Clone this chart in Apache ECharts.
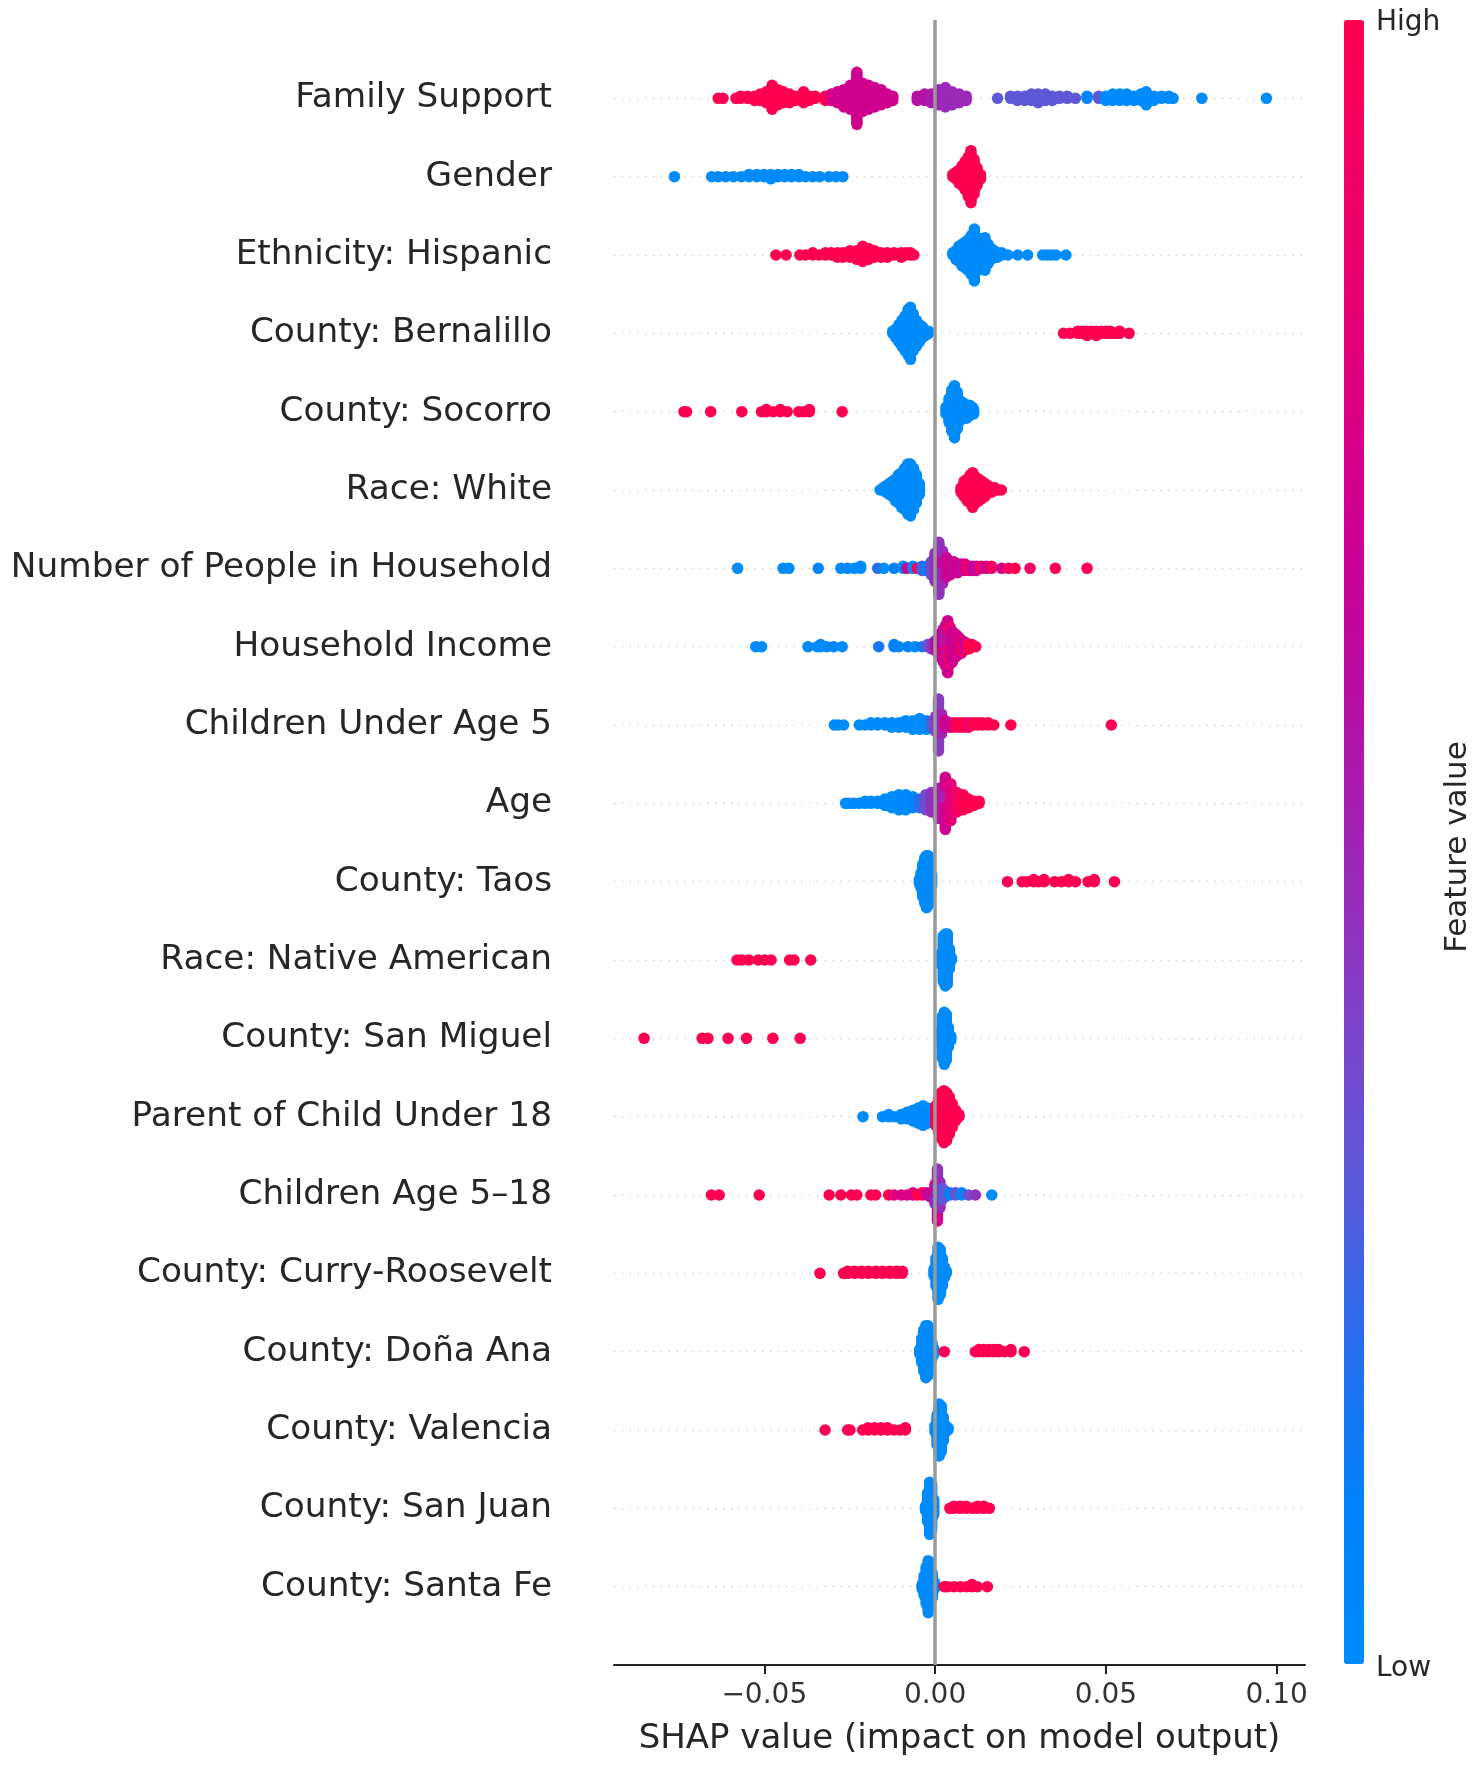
<!DOCTYPE html>
<html>
<head>
<meta charset="utf-8">
<script src="https://cdn.jsdelivr.net/npm/echarts@6/dist/echarts.min.js"></script>
<style>
html, body { margin: 0; padding: 0; background: #fff; }
#chart { width: 1477px; height: 1766px; }
</style>
</head>
<body>
<div id="chart"></div>
<script>
// feature names, top to bottom
var features = [
    'Family Support', 'Gender', 'Ethnicity: Hispanic', 'County: Bernalillo', 'County: Socorro',
    'Race: White', 'Number of People in Household', 'Household Income', 'Children Under Age 5', 'Age',
    'County: Taos', 'Race: Native American', 'County: San Miguel', 'Parent of Child Under 18',
    'Children Age 5\u201318', 'County: Curry-Roosevelt', 'County: Do\u00f1a Ana', 'County: Valencia',
    'County: San Juan', 'County: Santa Fe'
];

// each entry: [shap value, feature value (0 low .. 1 high), number of samples]
var familySupport = [
    [-0.0635, 1, 1], [-0.0621, 1, 1], [-0.0583, 1, 1], [-0.0569, 1, 2], [-0.0549, 1, 2], [-0.0528, 1, 3],
    [-0.0512, 1, 4], [-0.0494, 1, 6], [-0.0477, 1, 12], [-0.046, 1, 8], [-0.0444, 1, 6], [-0.0426, 1, 5],
    [-0.0409, 1, 3], [-0.0385, 1, 6], [-0.0368, 1, 3], [-0.0351, 1, 2], [-0.0321, 1, 3], [-0.0304, 0.74, 4],
    [-0.0286, 0.7, 6], [-0.0267, 0.7, 9], [-0.0248, 0.7, 12], [-0.0229, 0.7, 25], [-0.0212, 0.7, 14],
    [-0.0195, 0.7, 12], [-0.0177, 0.7, 10], [-0.0158, 0.7, 8], [-0.014, 0.7, 5], [-0.0124, 0.7, 3],
    [-0.0052, 0.58, 3], [-0.0031, 0.58, 4], [-0.0011, 0.55, 5], [0.001, 0.5, 8], [0.003, 0.48, 10],
    [0.005, 0.48, 7], [0.0071, 0.48, 5], [0.0091, 0.48, 3], [0.0183, 0.3, 1], [0.0221, 0.3, 2],
    [0.0241, 0.3, 3], [0.0262, 0.3, 3], [0.0282, 0.3, 4], [0.0302, 0.3, 5], [0.0323, 0.3, 4],
    [0.0343, 0.3, 3], [0.0364, 0.3, 2], [0.0387, 0.3, 2], [0.0411, 0.3, 1], [0.0445, 0.05, 2],
    [0.0479, 0.3, 2], [0.05, 0, 3], [0.052, 0, 4], [0.0541, 0, 4], [0.0561, 0, 4], [0.0582, 0, 3],
    [0.0602, 0, 4], [0.0618, 0, 7], [0.064, 0, 3], [0.0663, 0, 2], [0.0684, 0, 2], [0.0697, 0, 1],
    [0.0781, 0, 1], [0.097, 0, 1]
];
var gender = [
    [-0.0763, 0, 1], [-0.0654, 0, 1], [-0.0635, 0, 1], [-0.0613, 0, 1], [-0.059, 0, 1], [-0.0567, 0, 1],
    [-0.0545, 0, 2], [-0.0522, 0, 2], [-0.0501, 0, 2], [-0.0481, 0, 3], [-0.046, 0, 2], [-0.044, 0, 2],
    [-0.042, 0, 2], [-0.0399, 0, 2], [-0.0379, 0, 1], [-0.0358, 0, 1], [-0.0338, 0, 1], [-0.0311, 0, 1],
    [-0.029, 0, 1], [-0.027, 0, 1],
    [0.0052, 1, 2], [0.0061, 1, 4], [0.007, 1, 7], [0.0079, 1, 10], [0.0088, 1, 14], [0.0097, 1, 19],
    [0.0105, 1, 25], [0.0114, 1, 17], [0.0123, 1, 9], [0.0133, 1, 3]
];
var hispanic = [
    [-0.0466, 1, 1], [-0.0436, 1, 1], [-0.0396, 1, 1], [-0.0379, 1, 1], [-0.0358, 1, 2], [-0.034, 1, 1],
    [-0.0321, 1, 2], [-0.0304, 1, 2], [-0.0286, 1, 3], [-0.027, 1, 3], [-0.0249, 1, 4], [-0.0229, 1, 5],
    [-0.0212, 1, 8], [-0.0195, 1, 6], [-0.0177, 1, 4], [-0.0158, 1, 3], [-0.014, 1, 3], [-0.012, 1, 2],
    [-0.0099, 1, 3], [-0.0084, 1, 2], [-0.0072, 1, 2], [-0.0062, 1, 1],
    [0.0052, 0, 2], [0.0061, 0, 5], [0.007, 0, 8], [0.0079, 0, 11], [0.0088, 0, 13], [0.0097, 0, 15],
    [0.0106, 0, 19], [0.0115, 0, 25], [0.0124, 0, 16], [0.0133, 0, 14], [0.0146, 0, 16], [0.0155, 0, 10],
    [0.0164, 0, 6], [0.0173, 0, 4], [0.0182, 0, 3], [0.0195, 0, 2], [0.0213, 0, 1], [0.0242, 0, 1],
    [0.0271, 0, 1], [0.0315, 0, 1], [0.0328, 0, 1], [0.0341, 0, 1], [0.0354, 0, 1], [0.0383, 0, 1]
];
var bernalillo = [
    [-0.0124, 0, 2], [-0.0115, 0, 5], [-0.0106, 0, 9], [-0.0097, 0, 13], [-0.0088, 0, 17], [-0.0079, 0, 22],
    [-0.0072, 0, 25], [-0.0064, 0, 18], [-0.0055, 0, 13], [-0.0046, 0, 9], [-0.0037, 0, 6], [-0.0028, 0, 3],
    [-0.0019, 0, 2],
    [0.0376, 1, 1], [0.0395, 1, 1], [0.0418, 1, 2], [0.0432, 1, 2], [0.0445, 1, 3], [0.0458, 1, 2],
    [0.0472, 1, 3], [0.0486, 1, 2], [0.05, 1, 2], [0.0513, 1, 2], [0.0527, 1, 1], [0.054, 1, 2], [0.0568, 1, 1]
];
var socorro = [
    [-0.0735, 1, 1], [-0.0728, 1, 1], [-0.0657, 1, 1], [-0.0566, 1, 1], [-0.0508, 1, 1], [-0.0494, 1, 2],
    [-0.0474, 1, 1], [-0.0453, 1, 2], [-0.0433, 1, 1], [-0.0399, 1, 1], [-0.0385, 1, 1], [-0.0368, 1, 2],
    [-0.0272, 1, 1],
    [0.0032, 0, 4], [0.0041, 0, 12], [0.0049, 0, 20], [0.0057, 0, 25], [0.0065, 0, 18], [0.0074, 0, 10],
    [0.0083, 0, 8], [0.0092, 0, 7], [0.0101, 0, 6], [0.0109, 0, 4], [0.0113, 0, 3]
];
var raceWhite = [
    [-0.0161, 0, 1], [-0.0152, 0, 2], [-0.0143, 0, 4], [-0.0134, 0, 6], [-0.0125, 0, 8], [-0.0116, 0, 11],
    [-0.0107, 0, 14], [-0.0098, 0, 17], [-0.0089, 0, 20], [-0.008, 0, 24], [-0.0072, 0, 25], [-0.0063, 0, 20],
    [-0.0055, 0, 14], [-0.0046, 0, 6],
    [0.0076, 1, 3], [0.0085, 1, 8], [0.0094, 1, 11], [0.0103, 1, 14], [0.011, 1, 17], [0.0119, 1, 13],
    [0.0128, 1, 11], [0.0137, 1, 9], [0.0146, 1, 7], [0.0155, 1, 4], [0.0165, 1, 3], [0.0175, 1, 2],
    [0.0185, 1, 1], [0.0194, 1, 1]
];
var householdSize = [
    [-0.0578, 0, 1], [-0.0445, 0, 1], [-0.0428, 0, 1], [-0.0342, 0.05, 1], [-0.0276, 0, 1], [-0.0256, 0.05, 1],
    [-0.0236, 0, 1], [-0.0218, 0, 2], [-0.0168, 0.2, 1], [-0.015, 0, 1], [-0.012, 0.1, 1], [-0.0093, 0, 2],
    [-0.0082, 0.7, 1], [-0.0065, 0.05, 2], [-0.0052, 1, 1], [-0.0038, 0.25, 3], [-0.0024, 0.1, 3],
    [-0.0011, 0.35, 6], [-0.0011, 0.85, 1], [0, 0.45, 14], [0.0011, 0.45, 25], [0.0022, 0.48, 10],
    [0.0022, 0.6, 6], [0.0033, 0.65, 10], [0.0044, 0.7, 6], [0.0044, 1, 1], [0.0055, 0.65, 6],
    [0.0066, 0.7, 5], [0.0077, 0.6, 4], [0.0088, 0.75, 4], [0.01, 0.85, 3], [0.011, 0.7, 3],
    [0.0121, 0.65, 3], [0.0135, 0.9, 2], [0.015, 0.7, 2], [0.0165, 0.9, 2], [0.0195, 0.75, 1],
    [0.0215, 0.9, 1], [0.0234, 1, 1], [0.0278, 0.9, 1], [0.0352, 1, 1], [0.0445, 1, 1]
];
var householdIncome = [
    [-0.0525, 0, 1], [-0.0508, 0, 1], [-0.0372, 0, 1], [-0.0345, 0, 1], [-0.0335, 0, 2], [-0.0317, 0, 1],
    [-0.0297, 0.05, 1], [-0.0272, 0, 1], [-0.0165, 0.15, 1], [-0.012, 0.1, 2], [-0.0106, 0.05, 1],
    [-0.0079, 0.1, 1], [-0.0059, 0, 1], [-0.0038, 0.15, 1], [-0.0022, 0.3, 2], [-0.0011, 0.4, 3],
    [-0.0004, 0.45, 4], [0.0003, 0.6, 6], [0.001, 0.9, 3], [0.001, 0.6, 6], [0.0017, 0.7, 12],
    [0.0024, 0.65, 16], [0.0031, 0.75, 12], [0.0031, 0.5, 8], [0.0037, 0.7, 15], [0.0037, 1, 5],
    [0.0037, 0.5, 5], [0.0044, 0.85, 12], [0.0044, 0.6, 6], [0.0051, 0.7, 15], [0.0058, 0.65, 12],
    [0.0065, 0.75, 10], [0.0071, 0.7, 8], [0.0077, 0.7, 7], [0.0082, 0.95, 5], [0.0088, 0.7, 4],
    [0.0094, 0.8, 3], [0.01, 1, 3], [0.0108, 1, 2], [0.0119, 1, 1]
];
var childrenUnder5 = [
    [-0.0295, 0, 1], [-0.0284, 0, 1], [-0.0268, 0, 1], [-0.0222, 0, 1], [-0.0205, 0, 1], [-0.0188, 0, 2],
    [-0.0168, 0, 2], [-0.0147, 0, 2], [-0.0127, 0, 3], [-0.0106, 0, 3], [-0.0086, 0, 4], [-0.0065, 0, 5],
    [-0.0045, 0, 6], [-0.0025, 0.05, 5], [-0.0008, 0.3, 4], [0.0002, 0.4, 8], [0.001, 0.42, 20],
    [0.001, 0.6, 5], [0.0019, 0.5, 10], [0.003, 0.7, 4], [0.0044, 0.65, 3], [0.0057, 0.9, 3],
    [0.0071, 1, 3], [0.0084, 1, 3], [0.0098, 0.9, 3], [0.0112, 1, 2], [0.0125, 1, 2], [0.0139, 1, 2],
    [0.0155, 1, 2], [0.0172, 1, 1], [0.0222, 1, 1], [0.0516, 1, 1]
];
var age = [
    [-0.0262, 0, 1], [-0.0252, 0, 1], [-0.0238, 0, 1], [-0.0222, 0, 1], [-0.0205, 0, 2], [-0.0188, 0, 2],
    [-0.0168, 0, 2], [-0.0147, 0, 4], [-0.0127, 0, 6], [-0.0106, 0, 8], [-0.0086, 0, 8], [-0.0065, 0.05, 6],
    [-0.0045, 0.2, 5], [-0.0027, 0.35, 8], [-0.0011, 0.45, 10], [0.001, 0.55, 15], [0.003, 0.7, 18],
    [0.003, 0.5, 7], [0.0046, 0.8, 18], [0.0064, 0.9, 10], [0.0082, 1, 8], [0.0098, 1, 5],
    [0.0114, 1, 3], [0.0129, 1, 2]
];
var taos = [
    [-0.0046, 0, 3], [-0.0041, 0, 8], [-0.0036, 0, 16], [-0.003, 0, 22], [-0.0025, 0, 25], [-0.002, 0, 24],
    [-0.0015, 0, 18], [-0.001, 0, 6],
    [0.0212, 1, 1], [0.0255, 1, 1], [0.0268, 1, 1], [0.0289, 1, 2], [0.0302, 1, 1], [0.0319, 1, 2],
    [0.035, 1, 1], [0.037, 1, 1], [0.0391, 1, 2], [0.0411, 1, 1], [0.0448, 1, 1], [0.0466, 1, 2], [0.0525, 1, 1]
];
var nativeAmerican = [
    [-0.058, 1, 1], [-0.0566, 1, 1], [-0.0545, 1, 1], [-0.0518, 1, 1], [-0.0499, 1, 1], [-0.048, 1, 1],
    [-0.0426, 1, 1], [-0.0413, 1, 1], [-0.0364, 1, 1],
    [0.0018, 0, 6], [0.0024, 0, 22], [0.003, 0, 25], [0.0036, 0, 24], [0.0042, 0, 10], [0.0048, 0, 2]
];
var sanMiguel = [
    [-0.0852, 1, 1], [-0.0682, 1, 1], [-0.0665, 1, 1], [-0.0606, 1, 1], [-0.0552, 1, 1], [-0.0475, 1, 1],
    [-0.0395, 1, 1],
    [0.0015, 0, 6], [0.0021, 0, 20], [0.0027, 0, 25], [0.0033, 0, 22], [0.0039, 0, 10], [0.0046, 0, 3]
];
var parentUnder18 = [
    [-0.0211, 0, 1], [-0.0154, 0, 1], [-0.0136, 0, 2], [-0.012, 0, 1], [-0.0099, 0, 3], [-0.0082, 0, 4],
    [-0.0065, 0, 6], [-0.0049, 0, 8], [-0.0035, 0, 10], [-0.0022, 0, 8], [-0.0011, 0, 5],
    [0.0002, 1, 10], [0.001, 1, 16], [0.0018, 1, 22], [0.0026, 1, 25], [0.0034, 1, 23], [0.0042, 1, 18],
    [0.005, 1, 12], [0.006, 1, 6], [0.007, 1, 2]
];
var children5to18 = [
    [-0.0655, 1, 1], [-0.0632, 1, 1], [-0.0515, 1, 1], [-0.031, 1, 1], [-0.0276, 1, 1], [-0.0245, 1, 1],
    [-0.0229, 1, 1], [-0.0188, 1, 1], [-0.0174, 1, 1], [-0.0136, 1, 1], [-0.012, 0.8, 1], [-0.0099, 0.75, 1],
    [-0.0082, 0.75, 1], [-0.0065, 0.75, 2], [-0.0052, 1, 1], [-0.0038, 1, 2], [-0.0025, 0.7, 2],
    [-0.0012, 0.6, 3], [0, 0.5, 5], [0, 0.75, 5], [0.0007, 0, 5], [0.0007, 0.45, 10], [0.0007, 0.75, 10],
    [0.0014, 0.48, 8], [0.0014, 0.3, 5], [0.0021, 0.3, 6], [0.0028, 0.3, 4], [0.0044, 0.1, 2],
    [0.006, 0.3, 2], [0.0078, 0.05, 2], [0.0098, 0.35, 1], [0.0118, 0.45, 1], [0.0166, 0, 1]
];
var curryRoosevelt = [
    [-0.0337, 1, 1], [-0.0268, 1, 1], [-0.0256, 1, 2], [-0.0236, 1, 2], [-0.0215, 1, 2], [-0.0195, 1, 2],
    [-0.0174, 1, 2], [-0.0154, 1, 2], [-0.0133, 1, 2], [-0.0113, 1, 2], [-0.0096, 1, 2],
    [-0.0003, 0, 4], [0.0003, 0, 14], [0.0009, 0, 25], [0.0015, 0, 22], [0.0021, 0, 14], [0.0027, 0, 6],
    [0.0033, 0, 2]
];
var donaAna = [
    [-0.0045, 0, 3], [-0.0039, 0, 12], [-0.0033, 0, 20], [-0.0027, 0, 25], [-0.0021, 0, 24], [-0.0015, 0, 16],
    [-0.0009, 0, 8], [-0.0003, 0, 3],
    [0.0027, 1, 1], [0.0118, 1, 1], [0.0128, 1, 2], [0.0142, 1, 2], [0.0157, 1, 2], [0.0172, 1, 2],
    [0.0186, 1, 2], [0.0203, 1, 1], [0.0222, 1, 2], [0.0261, 1, 1]
];
var valencia = [
    [-0.0322, 1, 1], [-0.0256, 1, 1], [-0.0249, 1, 1], [-0.0212, 1, 1], [-0.0196, 1, 2], [-0.0177, 1, 2],
    [-0.0158, 1, 2], [-0.0139, 1, 2], [-0.012, 1, 1], [-0.0102, 1, 1], [-0.0087, 1, 2],
    [0, 0, 4], [0.0006, 0, 15], [0.0012, 0, 25], [0.0018, 0, 22], [0.0024, 0, 12], [0.003, 0, 4], [0.0038, 0, 2]
];
var sanJuan = [
    [-0.0028, 0, 3], [-0.0022, 0, 14], [-0.0016, 0, 25], [-0.001, 0, 22], [-0.0004, 0, 8],
    [0.0043, 1, 1], [0.0055, 1, 2], [0.0073, 1, 2], [0.0091, 1, 2], [0.0109, 1, 1], [0.0124, 1, 2],
    [0.0142, 1, 2], [0.0159, 1, 1]
];
var santaFe = [
    [-0.0038, 0, 3], [-0.0032, 0, 10], [-0.0026, 0, 18], [-0.002, 0, 25], [-0.0014, 0, 22], [-0.0008, 0, 12],
    [-0.0002, 0, 4],
    [0.0027, 1, 1], [0.0036, 1, 1], [0.0055, 1, 1], [0.0074, 1, 1], [0.0092, 1, 1], [0.0108, 1, 2],
    [0.0124, 1, 1], [0.0153, 1, 1]
];

var rows = [familySupport, gender, hispanic, bernalillo, socorro, raceWhite, householdSize, householdIncome,
    childrenUnder5, age, taos, nativeAmerican, sanMiguel, parentUnder18, children5to18, curryRoosevelt,
    donaAna, valencia, sanJuan, santaFe];

var xTicks = [-0.05, 0, 0.05, 0.1];

// shap red_blue colour map, low -> high
var shapColors = ['#008bfb', '#0281f8', '#2a6cec', '#5e58d8', '#8240c6', '#a024b4',
    '#bb0ca2', '#d0008f', '#e2007a', '#f10066', '#ff0051'];

var FONT = 'DejaVu Sans';

// beeswarm stacking like shap: samples sharing a value are spread up and down
function swarmRow(triples, pos) {
    var groups = {}, keys = [];
    triples.forEach(function (t) {
        var k = String(t[0]);
        if (!groups[k]) {
            groups[k] = [];
            keys.push(t[0]);
        }
        groups[k].push(t);
    });
    keys.sort(function (a, b) { return a - b; });
    var pts = [], maxYs = 0;
    keys.forEach(function (k) {
        var list = groups[String(k)];
        var left = list.map(function (t) { return t[2]; });
        var order = [], more = true;
        while (more) {
            more = false;
            list.forEach(function (t, i) {
                if (left[i] > 0) {
                    order.push(t[1]);
                    left[i]--;
                    more = true;
                }
            });
        }
        order.forEach(function (fv, layer) {
            var ys = Math.ceil(layer / 2) * ((layer % 2) * 2 - 1);
            if (ys > maxYs) maxYs = ys;
            pts.push([k, ys, fv]);
        });
    });
    var scale = 0.9 * 0.4 / (maxYs + 1);
    return pts.map(function (p) { return [p[0], pos + p[1] * scale, p[2]]; });
}

var points = [];
rows.forEach(function (r, i) {
    points = points.concat(swarmRow(r, features.length - 1 - i));
});

// dotted row guides, hidden at the two ends of the y range
var guideColors = ['rgba(0,0,0,0)'];
for (var g = 0; g < features.length; g++) guideColors.push('#cccccc');
guideColors.push('rgba(0,0,0,0)');

var myChart = echarts.init(document.getElementById('chart'));
var option = {
    backgroundColor: '#ffffff',
    animation: false,
    grid: {
        left: 614,
        right: 172,
        top: 20,
        bottom: 101,
        containLabel: false,
        outerBoundsMode: 'none'
    },
    xAxis: {
        type: 'value',
        min: -0.094,
        max: 0.1083,
        axisLine: { show: true, onZero: false, lineStyle: { color: '#222222', width: 2 } },
        axisTick: { show: true, length: 9, customValues: xTicks, lineStyle: { color: '#222222', width: 2 } },
        axisLabel: {
            customValues: xTicks,
            margin: 17,
            fontSize: 28,
            fontFamily: FONT,
            color: '#333333',
            formatter: function (v) {
                return (v < 0 ? '\u2212' : '') + Math.abs(v).toFixed(2);
            }
        },
        splitLine: { show: false },
        name: 'SHAP value (impact on model output)',
        nameLocation: 'middle',
        nameGap: 57,
        nameTextStyle: { fontSize: 34, fontFamily: FONT, color: '#262626' }
    },
    yAxis: {
        type: 'value',
        min: -1,
        max: features.length,
        interval: 1,
        axisLine: { show: false },
        axisTick: { show: false },
        axisLabel: {
            margin: 62,
            fontSize: 34.3,
            fontFamily: FONT,
            color: '#262626',
            formatter: function (v) {
                var k = Math.round(v);
                if (k < 0 || k > features.length - 1) return '';
                return features[features.length - 1 - k];
            }
        },
        splitLine: {
            show: true,
            lineStyle: { color: guideColors, width: 1.3, type: [1.3, 6.5] }
        }
    },
    visualMap: {
        type: 'continuous',
        seriesIndex: 0,
        dimension: 2,
        min: 0,
        max: 1,
        orient: 'vertical',
        left: 1344,
        top: 20,
        padding: 0,
        itemWidth: 20,
        itemHeight: 1644,
        calculable: false,
        hoverLink: false,
        text: null,
        showLabel: false,
        inRange: { color: shapColors }
    },
    graphic: [
        {
            type: 'text', x: 1376, y: 23,
            style: { text: 'High', font: '28px "DejaVu Sans"', fill: '#262626', verticalAlign: 'middle' }
        },
        {
            type: 'text', x: 1376, y: 1669,
            style: { text: 'Low', font: '28px "DejaVu Sans"', fill: '#262626', verticalAlign: 'middle' }
        },
        {
            type: 'text', x: 1458, y: 847, rotation: Math.PI / 2,
            style: {
                text: 'Feature value', font: '31px "DejaVu Sans"', fill: '#262626',
                align: 'center', verticalAlign: 'middle'
            }
        }
    ],
    series: [
        {
            type: 'scatter',
            data: points,
            symbol: 'circle',
            symbolSize: 11.5,
            itemStyle: { opacity: 1 },
            silent: true,
            z: 3
        },
        {
            type: 'line',
            data: [],
            silent: true,
            z: 1,
            markLine: {
                silent: true,
                symbol: 'none',
                label: { show: false },
                lineStyle: { color: '#999999', width: 3.5, type: 'solid' },
                data: [{ xAxis: 0 }]
            }
        }
    ]
};
myChart.setOption(option);
</script>
</body>
</html>
